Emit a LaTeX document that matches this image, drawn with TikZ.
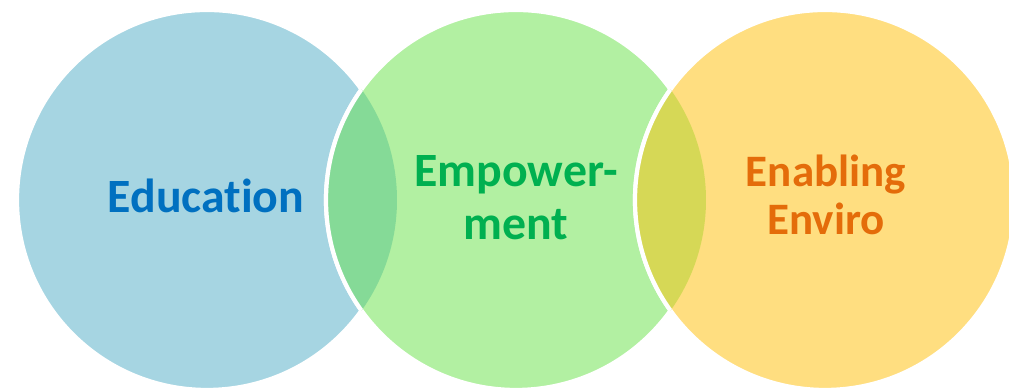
\documentclass[tikz,border=0pt]{standalone}
\usepackage{fontspec}
\setmainfont[Ligatures=NoCommon]{Carlito}
\usepackage{xcolor}
\usetikzlibrary{positioning}
\definecolor{edBlue}{RGB}{166, 213, 226}
\definecolor{emGreen}{RGB}{178, 240, 162}
\definecolor{enYellow}{RGB}{255, 222, 128}
\definecolor{lapGreen}{RGB}{133, 218, 151}
\definecolor{lapOlive}{RGB}{214, 216, 86}
\definecolor{edText}{RGB}{0, 112, 192}
\definecolor{emText}{RGB}{0, 176, 80}
\definecolor{enText}{RGB}{228, 108, 10}
\tikzset{
    base/.style={
        font=\bfseries,
        align=center,
        anchor=base,
        inner sep=0pt
    },
    ring/.style={
        draw=white,
        line width=1.2pt
    },
    bigword/.style={
        base,
        font=\bfseries\fontsize{13.6}{15}\selectfont
    },
    midword/.style={
        base,
        font=\bfseries\fontsize{13.6}{15.1}\selectfont
    },
    smallword/.style={
        base,
        font=\bfseries\fontsize{12.8}{13.7}\selectfont
    }
}
\begin{document}
\begin{tikzpicture}
    \useasboundingbox (0,0) rectangle (10.09,3.91);
    \def\rad{1.90}

    % Circle centres
    \coordinate (cEdu) at (2.07,1.91);
    \coordinate (cEmp) at (5.16,1.91);
    \coordinate (cEnv) at (8.25,1.91);

    % Circles
    \path[ring, fill=edBlue] (cEdu) circle (\rad);
    \path[ring, fill=emGreen] (cEmp) circle (\rad);
    \path[ring, fill=enYellow] (cEnv) circle (\rad);

    % Overlaps
    \begin{scope}
        \clip (cEdu) circle (\rad);
        \fill[lapGreen] (cEmp) circle (\rad);
        \draw[ring] (cEmp) circle (\rad);
    \end{scope}
    \begin{scope}
        \clip (cEmp) circle (\rad);
        \fill[lapOlive] (cEnv) circle (\rad);
        \draw[ring] (cEnv) circle (\rad);
    \end{scope}

    % Labels (base = baseline of the last line)
    \node[bigword, text=edText] (edu) at (2.06,1.78) {Education};
    \node[midword, text=emText] (emp) at (5.16,1.51) {Empower-\\ment};
    \node[smallword, text=enText] (env) at (8.26,1.56) {Enabling\\Enviro};
\end{tikzpicture}
\end{document}
